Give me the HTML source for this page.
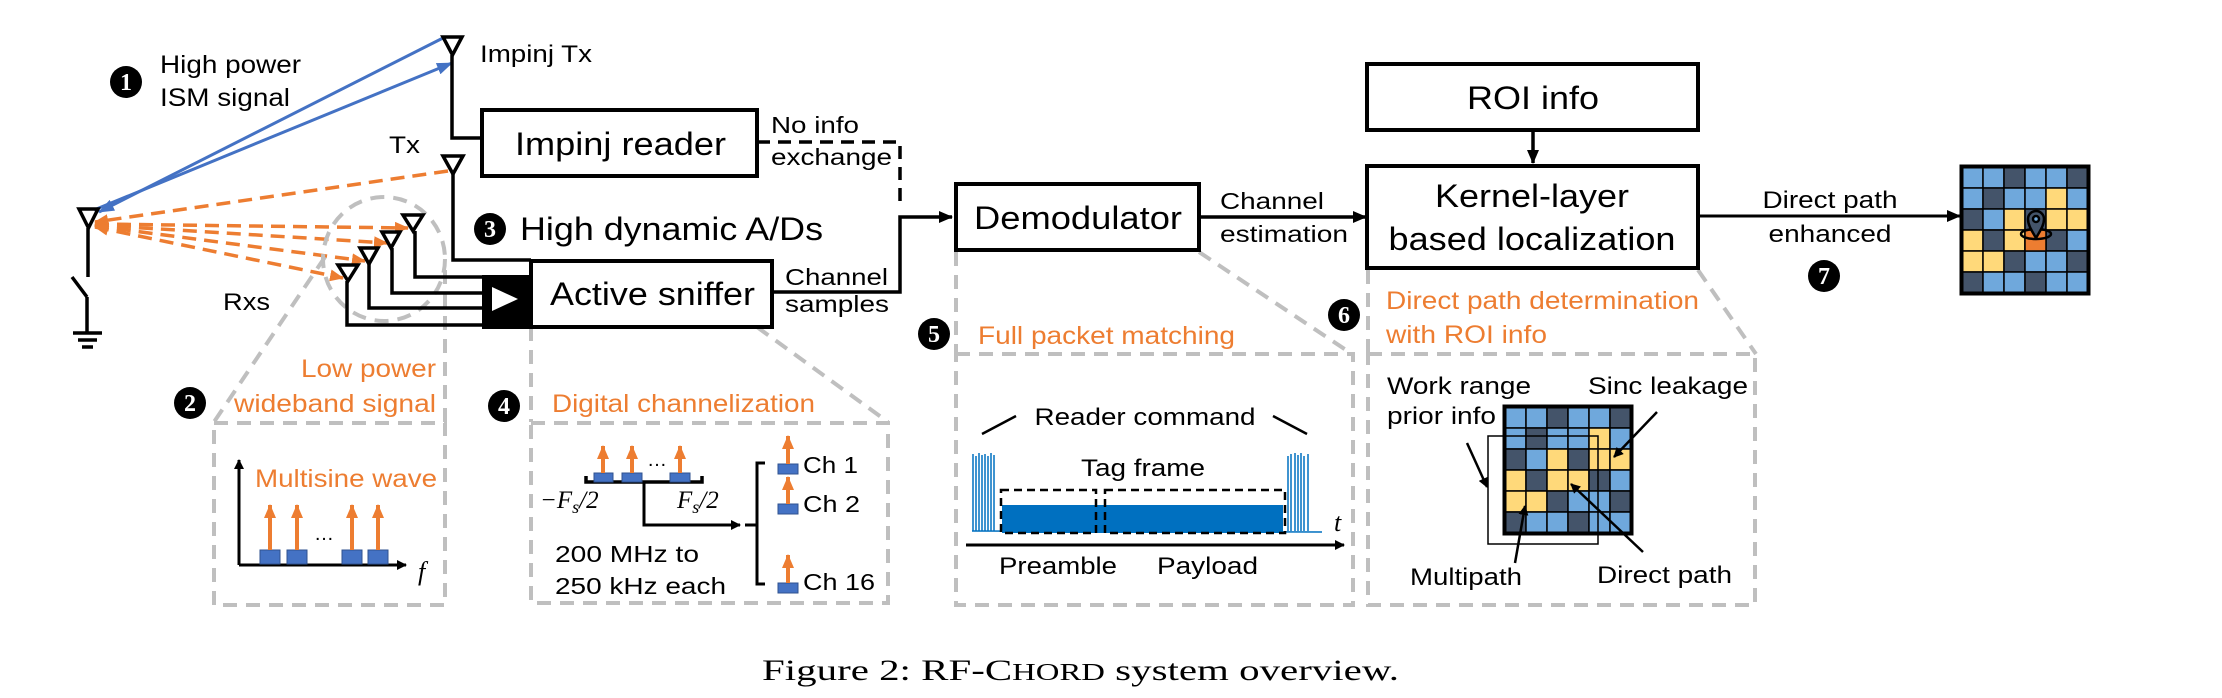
<!DOCTYPE html>
<html><head><meta charset="utf-8"><style>
html,body{margin:0;padding:0;background:#fff;}
svg{display:block;font-family:"Liberation Sans",Arial,sans-serif;}
.o{fill:#ed7d31;}
</style></head><body>
<svg width="2222" height="698" viewBox="0 0 2222 698" xmlns="http://www.w3.org/2000/svg">
<defs>
<marker id="ab" markerWidth="10" markerHeight="10" refX="9" refY="5" orient="auto" markerUnits="userSpaceOnUse"><path d="M0,0 L10,5 L0,10 z" fill="#000"/></marker>
<marker id="abb" markerWidth="14" markerHeight="12" refX="13" refY="6" orient="auto" markerUnits="userSpaceOnUse"><path d="M0,0 L14,6 L0,12 z" fill="#000"/></marker>
<marker id="au" markerWidth="16" markerHeight="12" refX="15" refY="6" orient="auto" markerUnits="userSpaceOnUse"><path d="M0,0 L16,6 L0,12 z" fill="#4472c4"/></marker>
<marker id="ao" markerWidth="14" markerHeight="12" refX="13" refY="6" orient="auto" markerUnits="userSpaceOnUse"><path d="M0,0 L14,6 L0,12 z" fill="#ed7d31"/></marker>
<marker id="aos" markerWidth="14" markerHeight="12" refX="13" refY="6" orient="auto-start-reverse" markerUnits="userSpaceOnUse"><path d="M0,0 L14,6 L0,12 z" fill="#ed7d31"/></marker>
<g id="grid">
<rect x="0" y="0" width="130" height="130" fill="#000"/>
<g stroke="#000" stroke-width="1.5">
<rect x="2" y="2" width="21" height="21" fill="#6fa8dc"/><rect x="23" y="2" width="21" height="21" fill="#6fa8dc"/><rect x="44" y="2" width="21" height="21" fill="#44546a"/><rect x="65" y="2" width="21" height="21" fill="#6fa8dc"/><rect x="86" y="2" width="21" height="21" fill="#6fa8dc"/><rect x="107" y="2" width="21" height="21" fill="#44546a"/>
<rect x="2" y="23" width="21" height="21" fill="#6fa8dc"/><rect x="23" y="23" width="21" height="21" fill="#44546a"/><rect x="44" y="23" width="21" height="21" fill="#6fa8dc"/><rect x="65" y="23" width="21" height="21" fill="#6fa8dc"/><rect x="86" y="23" width="21" height="21" fill="#ffd97a"/><rect x="107" y="23" width="21" height="21" fill="#6fa8dc"/>
<rect x="2" y="44" width="21" height="21" fill="#44546a"/><rect x="23" y="44" width="21" height="21" fill="#6fa8dc"/><rect x="44" y="44" width="21" height="21" fill="#ffd97a"/><rect x="65" y="44" width="21" height="21" fill="#44546a"/><rect x="86" y="44" width="21" height="21" fill="#ffd97a"/><rect x="107" y="44" width="21" height="21" fill="#ffd97a"/>
<rect x="2" y="65" width="21" height="21" fill="#ffd97a"/><rect x="23" y="65" width="21" height="21" fill="#44546a"/><rect x="44" y="65" width="21" height="21" fill="#ffd97a"/><rect x="65" y="65" width="21" height="21" fill="#ffd97a"/><rect x="86" y="65" width="21" height="21" fill="#44546a"/><rect x="107" y="65" width="21" height="21" fill="#6fa8dc"/>
<rect x="2" y="86" width="21" height="21" fill="#ffd97a"/><rect x="23" y="86" width="21" height="21" fill="#ffd97a"/><rect x="44" y="86" width="21" height="21" fill="#44546a"/><rect x="65" y="86" width="21" height="21" fill="#6fa8dc"/><rect x="86" y="86" width="21" height="21" fill="#6fa8dc"/><rect x="107" y="86" width="21" height="21" fill="#44546a"/>
<rect x="2" y="107" width="21" height="21" fill="#44546a"/><rect x="23" y="107" width="21" height="21" fill="#6fa8dc"/><rect x="44" y="107" width="21" height="21" fill="#6fa8dc"/><rect x="65" y="107" width="21" height="21" fill="#44546a"/><rect x="86" y="107" width="21" height="21" fill="#6fa8dc"/><rect x="107" y="107" width="21" height="21" fill="#6fa8dc"/>
</g>
<rect x="1.5" y="1.5" width="127" height="127" fill="none" stroke="#000" stroke-width="4"/>
</g>
</defs>

<line x1="443" y1="38" x2="99" y2="212" stroke="#4472c4" stroke-width="3" marker-end="url(#au)"/>
<line x1="94" y1="210" x2="452" y2="63" stroke="#4472c4" stroke-width="3" marker-end="url(#au)"/>

<g stroke="#ed7d31" stroke-width="3.5" stroke-dasharray="14,8" fill="none">
<line x1="448" y1="171" x2="95" y2="222" marker-end="url(#ao)"/>
<line x1="95" y1="224" x2="408" y2="228" marker-start="url(#aos)" marker-end="url(#ao)"/>
<line x1="95" y1="225" x2="387" y2="243" marker-start="url(#aos)" marker-end="url(#ao)"/>
<line x1="95" y1="226" x2="365" y2="261" marker-start="url(#aos)" marker-end="url(#ao)"/>
<line x1="95" y1="227" x2="343" y2="278" marker-start="url(#aos)" marker-end="url(#ao)"/>
</g>

<g stroke="#bfbfbf" stroke-width="4" stroke-dasharray="14,9" fill="none">
<ellipse cx="384" cy="259" rx="61" ry="62"/>
<line x1="325" y1="257" x2="214" y2="422"/>
<line x1="445" y1="270" x2="445" y2="422"/>
<rect x="214" y="423" width="231" height="182"/>
<line x1="531" y1="327" x2="531" y2="422"/>
<line x1="757" y1="327" x2="888" y2="422"/>
<rect x="531" y="423" width="357" height="180"/>
<line x1="956" y1="252" x2="956" y2="354"/>
<line x1="1199" y1="252" x2="1352" y2="354"/>
<rect x="956" y="354" width="397" height="251"/>
<line x1="1368" y1="270" x2="1368" y2="354"/>
<line x1="1698" y1="270" x2="1756" y2="354"/>
<rect x="1368" y="354" width="387" height="251"/>
</g>

<g stroke="#000" stroke-width="3.5" fill="none">
<path d="M79,209 L98,209 L88.5,228 Z"/>
<line x1="88" y1="228" x2="88" y2="277"/>
<line x1="72" y1="277" x2="87" y2="297"/>
<line x1="87" y1="297" x2="87" y2="333"/>
<line x1="73" y1="333" x2="102" y2="333"/>
<line x1="78" y1="340" x2="97" y2="340"/>
<line x1="82" y1="347" x2="93" y2="347"/>
</g>

<g stroke="#000" stroke-width="3.5" fill="none">
<path d="M443,37 L462,37 L452.5,55 Z"/>
<polyline points="452,55 452,138 482,138"/>
<path d="M443,156 L463,156 L453,174 Z"/>
<polyline points="453,174 453,260 531,260"/>
<path d="M403,215 L423,215 L413,231 Z"/>
<path d="M382,232 L400,232 L391,248 Z"/>
<path d="M360,248 L378,248 L369,264 Z"/>
<path d="M338,265 L358,265 L348,281 Z"/>
<polyline points="415,231 415,277 482,277"/>
<polyline points="392,248 392,293 482,293"/>
<polyline points="369,264 369,308 482,308"/>
<polyline points="347,281 347,325 482,325"/>
</g>

<rect x="482" y="110" width="275" height="66" fill="#fff" stroke="#000" stroke-width="4"/>
<text x="515" y="155" font-size="32" textLength="211" lengthAdjust="spacingAndGlyphs">Impinj reader</text>
<polyline points="757,142 900,142 900,205" fill="none" stroke="#000" stroke-width="3.5" stroke-dasharray="13,8"/>
<text x="771" y="133" font-size="23" textLength="88" lengthAdjust="spacingAndGlyphs">No info</text>
<text x="771" y="165" font-size="23" textLength="121" lengthAdjust="spacingAndGlyphs">exchange</text>

<rect x="482" y="275" width="50" height="52" fill="#000"/>
<path d="M492,287 L518,299 L492,311 Z" fill="#fff"/>
<rect x="531" y="261" width="241" height="66" fill="#fff" stroke="#000" stroke-width="4"/>
<line x1="482" y1="327" x2="531" y2="327" stroke="#000" stroke-width="4"/>
<text x="550" y="305" font-size="32" textLength="205" lengthAdjust="spacingAndGlyphs">Active sniffer</text>
<polyline points="772,292 900,292 900,217 952,217" fill="none" stroke="#000" stroke-width="3.5" marker-end="url(#abb)"/>
<text x="785" y="285" font-size="23" textLength="103" lengthAdjust="spacingAndGlyphs">Channel</text>
<text x="785" y="312" font-size="23" textLength="104" lengthAdjust="spacingAndGlyphs">samples</text>

<g font-family="Liberation Serif,serif" font-weight="bold" font-size="24" text-anchor="middle" fill="#fff">
<circle cx="126" cy="82" r="16" fill="#000"/><text x="126" y="90">1</text>
<circle cx="190" cy="403" r="16" fill="#000"/><text x="190" y="411">2</text>
<circle cx="490" cy="229" r="16" fill="#000"/><text x="490" y="237">3</text>
<circle cx="504" cy="406" r="16" fill="#000"/><text x="504" y="414">4</text>
<circle cx="934" cy="334" r="16" fill="#000"/><text x="934" y="342">5</text>
<circle cx="1344" cy="315" r="16" fill="#000"/><text x="1344" y="323">6</text>
<circle cx="1824" cy="276" r="16" fill="#000"/><text x="1824" y="284">7</text>
</g>

<text x="160" y="73" font-size="25" textLength="141" lengthAdjust="spacingAndGlyphs">High power</text>
<text x="160" y="106" font-size="25" textLength="130" lengthAdjust="spacingAndGlyphs">ISM signal</text>
<text x="480" y="62" font-size="24" textLength="112" lengthAdjust="spacingAndGlyphs">Impinj Tx</text>
<text x="389" y="153" font-size="24" textLength="31" lengthAdjust="spacingAndGlyphs">Tx</text>
<text x="223" y="310" font-size="24" textLength="47" lengthAdjust="spacingAndGlyphs">Rxs</text>
<text x="520" y="240" font-size="32" textLength="303" lengthAdjust="spacingAndGlyphs">High dynamic A/Ds</text>

<text class="o" x="436" y="377" font-size="25" text-anchor="end" textLength="135" lengthAdjust="spacingAndGlyphs">Low power</text>
<text class="o" x="436" y="412" font-size="25" text-anchor="end" textLength="202" lengthAdjust="spacingAndGlyphs">wideband signal</text>
<text class="o" x="255" y="487" font-size="25" textLength="182" lengthAdjust="spacingAndGlyphs">Multisine wave</text>
<line x1="239" y1="565" x2="239" y2="460" stroke="#000" stroke-width="3" marker-end="url(#ab)"/>
<line x1="239" y1="565" x2="406" y2="565" stroke="#000" stroke-width="3" marker-end="url(#ab)"/>
<text x="418" y="580" font-size="26" font-family="Liberation Serif,serif" font-style="italic">f</text>
<g fill="#4472c4" stroke="#2f528f" stroke-width="1">
<rect x="260" y="550" width="20" height="14"/><rect x="287" y="550" width="20" height="14"/><rect x="342" y="550" width="20" height="14"/><rect x="368" y="550" width="20" height="14"/>
</g>
<g stroke="#ed7d31" stroke-width="4" marker-end="url(#ao)">
<line x1="270" y1="550" x2="270" y2="505"/><line x1="297" y1="550" x2="297" y2="505"/><line x1="352" y1="550" x2="352" y2="505"/><line x1="378" y1="550" x2="378" y2="505"/>
</g>
<text x="324" y="540" font-size="20" text-anchor="middle">…</text>

<text class="o" x="552" y="412" font-size="25" textLength="263" lengthAdjust="spacingAndGlyphs">Digital channelization</text>
<polyline points="586,476 586,482 702,482 702,476" fill="none" stroke="#000" stroke-width="3.5"/>
<g fill="#4472c4" stroke="#2f528f" stroke-width="1">
<rect x="594" y="473" width="19" height="9"/><rect x="622" y="473" width="20" height="9"/><rect x="670" y="473" width="20" height="9"/>
<rect x="778" y="464" width="20" height="10"/><rect x="778" y="504" width="20" height="10"/><rect x="778" y="583" width="20" height="10"/>
</g>
<g stroke="#ed7d31" stroke-width="4" marker-end="url(#ao)">
<line x1="603" y1="473" x2="603" y2="446"/><line x1="632" y1="473" x2="632" y2="446"/><line x1="680" y1="473" x2="680" y2="446"/>
<line x1="788" y1="464" x2="788" y2="436"/><line x1="788" y1="504" x2="788" y2="477"/><line x1="788" y1="583" x2="788" y2="555"/>
</g>
<text x="657" y="466" font-size="20" text-anchor="middle">…</text>
<polyline points="644,482 644,525 740,525" fill="none" stroke="#000" stroke-width="3" marker-end="url(#ab)"/>
<polyline points="765,463 757,463 757,584 765,584" fill="none" stroke="#000" stroke-width="3"/>
<line x1="745" y1="525" x2="757" y2="525" stroke="#000" stroke-width="3"/>
<text x="540" y="508" font-size="25" font-family="Liberation Serif,serif" font-style="italic">−F<tspan font-size="18" dy="5">s</tspan><tspan dy="-5">/2</tspan></text>
<text x="677" y="508" font-size="25" font-family="Liberation Serif,serif" font-style="italic">F<tspan font-size="18" dy="5">s</tspan><tspan dy="-5">/2</tspan></text>
<text x="803" y="473" font-size="23" textLength="55" lengthAdjust="spacingAndGlyphs">Ch 1</text>
<text x="803" y="512" font-size="23" textLength="57" lengthAdjust="spacingAndGlyphs">Ch 2</text>
<text x="803" y="590" font-size="23" textLength="72" lengthAdjust="spacingAndGlyphs">Ch 16</text>
<text x="555" y="562" font-size="23" textLength="144" lengthAdjust="spacingAndGlyphs">200 MHz to</text>
<text x="555" y="594" font-size="23" textLength="171" lengthAdjust="spacingAndGlyphs">250 kHz each</text>

<rect x="956" y="184" width="243" height="66" fill="#fff" stroke="#000" stroke-width="4"/>
<text x="974" y="229" font-size="32" textLength="208" lengthAdjust="spacingAndGlyphs">Demodulator</text>
<line x1="1199" y1="217" x2="1366" y2="217" stroke="#000" stroke-width="3.5" marker-end="url(#abb)"/>
<text x="1220" y="209" font-size="23" textLength="104" lengthAdjust="spacingAndGlyphs">Channel</text>
<text x="1220" y="242" font-size="23" textLength="128" lengthAdjust="spacingAndGlyphs">estimation</text>

<text class="o" x="978" y="344" font-size="25" textLength="257" lengthAdjust="spacingAndGlyphs">Full packet matching</text>
<text x="1145" y="425" font-size="24" text-anchor="middle" textLength="221" lengthAdjust="spacingAndGlyphs">Reader command</text>
<line x1="982" y1="434" x2="1016" y2="416" stroke="#000" stroke-width="2.5"/>
<line x1="1273" y1="416" x2="1307" y2="434" stroke="#000" stroke-width="2.5"/>
<text x="1143" y="476" font-size="24" text-anchor="middle" textLength="124" lengthAdjust="spacingAndGlyphs">Tag frame</text>
<g stroke="#0070c0" stroke-width="1.5">
<line x1="973" y1="454" x2="973" y2="531"/><line x1="976" y1="456" x2="976" y2="531"/><line x1="979" y1="453" x2="979" y2="531"/><line x1="982" y1="455" x2="982" y2="531"/><line x1="985" y1="454" x2="985" y2="531"/><line x1="988" y1="456" x2="988" y2="531"/><line x1="991" y1="453" x2="991" y2="531"/><line x1="994" y1="455" x2="994" y2="531"/>
<line x1="1288" y1="456" x2="1288" y2="531"/><line x1="1291" y1="454" x2="1291" y2="531"/><line x1="1295" y1="453" x2="1295" y2="531"/><line x1="1298" y1="455" x2="1298" y2="531"/><line x1="1301" y1="453" x2="1301" y2="531"/><line x1="1304" y1="456" x2="1304" y2="531"/><line x1="1308" y1="454" x2="1308" y2="531"/>
<line x1="972" y1="531" x2="1322" y2="532"/>
</g>
<rect x="1002" y="505" width="281" height="28" fill="#0070c0"/>
<g fill="none" stroke="#000" stroke-width="2.5" stroke-dasharray="8,5">
<rect x="1001" y="490" width="95" height="43"/>
<rect x="1105" y="490" width="180" height="43"/>
</g>
<text x="1334" y="531" font-size="26" font-family="Liberation Serif,serif" font-style="italic">t</text>
<line x1="966" y1="545" x2="1344" y2="545" stroke="#000" stroke-width="3" marker-end="url(#ab)"/>
<text x="999" y="574" font-size="24" textLength="118" lengthAdjust="spacingAndGlyphs">Preamble</text>
<text x="1157" y="574" font-size="24" textLength="101" lengthAdjust="spacingAndGlyphs">Payload</text>

<rect x="1367" y="64" width="331" height="66" fill="#fff" stroke="#000" stroke-width="4"/>
<text x="1533" y="109" font-size="32" text-anchor="middle" textLength="132" lengthAdjust="spacingAndGlyphs">ROI info</text>
<line x1="1533" y1="130" x2="1533" y2="163" stroke="#000" stroke-width="3.5" marker-end="url(#abb)"/>
<rect x="1367" y="166" width="331" height="102" fill="#fff" stroke="#000" stroke-width="4"/>
<text x="1532" y="207" font-size="32" text-anchor="middle" textLength="194" lengthAdjust="spacingAndGlyphs">Kernel-layer</text>
<text x="1532" y="250" font-size="32" text-anchor="middle" textLength="287" lengthAdjust="spacingAndGlyphs">based localization</text>
<line x1="1698" y1="216" x2="1960" y2="216" stroke="#000" stroke-width="3" marker-end="url(#abb)"/>
<text x="1830" y="208" font-size="24" text-anchor="middle" textLength="135" lengthAdjust="spacingAndGlyphs">Direct path</text>
<text x="1830" y="242" font-size="24" text-anchor="middle" textLength="123" lengthAdjust="spacingAndGlyphs">enhanced</text>

<use href="#grid" transform="translate(1960,165)"/>
<rect x="2025" y="230" width="21" height="21" fill="#ed7d31" stroke="#000" stroke-width="1.5"/>
<g fill="none" stroke="#000" stroke-width="2.5">
<ellipse cx="2036" cy="234" rx="15" ry="5"/>
<path d="M2036,238 C2030,228 2028,224 2028,219 A8,8 0 0 1 2044,219 C2044,224 2042,228 2036,238 Z" fill="#44546a"/>
<circle cx="2036" cy="219" r="3" fill="#6fa8dc"/>
</g>

<text class="o" x="1386" y="309" font-size="25" textLength="313" lengthAdjust="spacingAndGlyphs">Direct path determination</text>
<text class="o" x="1386" y="343" font-size="25" textLength="161" lengthAdjust="spacingAndGlyphs">with ROI info</text>
<use href="#grid" transform="translate(1503,405)"/>
<rect x="1488" y="436" width="110" height="108" fill="none" stroke="#000" stroke-width="1.5"/>
<text x="1387" y="394" font-size="24" textLength="144" lengthAdjust="spacingAndGlyphs">Work range</text>
<text x="1387" y="424" font-size="24" textLength="109" lengthAdjust="spacingAndGlyphs">prior info</text>
<text x="1588" y="394" font-size="24" textLength="160" lengthAdjust="spacingAndGlyphs">Sinc leakage</text>
<text x="1410" y="585" font-size="24" textLength="112" lengthAdjust="spacingAndGlyphs">Multipath</text>
<text x="1597" y="583" font-size="24" textLength="135" lengthAdjust="spacingAndGlyphs">Direct path</text>
<g stroke="#000" stroke-width="2.5" marker-end="url(#ab)">
<line x1="1467" y1="443" x2="1487" y2="487"/>
<line x1="1657" y1="412" x2="1614" y2="457"/>
<line x1="1643" y1="552" x2="1571" y2="484"/>
<line x1="1515" y1="563" x2="1525" y2="506"/>
</g>

<text x="762" y="680" font-size="30" font-family="Liberation Serif,serif" textLength="637" lengthAdjust="spacingAndGlyphs">Figure 2: RF-C<tspan font-size="24">HORD</tspan> system overview.</text>
</svg>
</body></html>
